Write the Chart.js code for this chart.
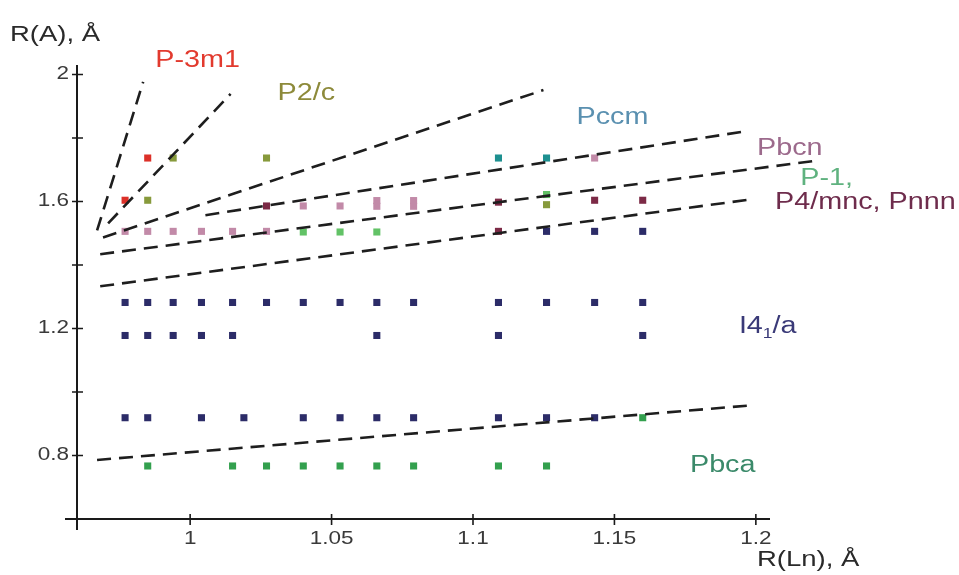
<!DOCTYPE html>
<html><head><meta charset="utf-8">
<script src="https://cdn.jsdelivr.net/npm/chart.js@4.4.0/dist/chart.umd.min.js"></script>
<style>html,body{margin:0;padding:0;background:#fff;}#wrap{width:959px;height:575px;position:relative;}</style>
</head><body><div id="wrap"><canvas id="c"></canvas></div>
<script>
// ---- categories: lanthanide (and Y) ionic radii, R(Ln), Å ----
const lnNames = ['Lu','Yb','Tm','Er','Ho','Y','Dy','Tb','Gd','Eu','Sm','Nd','Pr','Ce','La'];
const lnRadii = [0.977,0.985,0.994,1.004,1.015,1.019,1.027,1.040,1.053,1.066,1.079,1.109,1.126,1.143,1.160];

// ---- series: Ln and R(A) values ----
const p3m1Ln = ['Yb','Lu'];
const p3m1A  = [1.737,1.604];
const p2cLn  = ['Tm','Dy','Yb','Pr'];
const p2cA   = [1.737,1.737,1.604,1.590];
const pccmLn = ['Nd','Pr'];
const pccmA  = [1.737,1.737];
const pbcnLn = ['Lu','Yb','Tm','Er','Ho','Dy','Tb','Gd','Eu','Eu','Sm','Sm','Ce'];
const pbcnA  = [1.506,1.506,1.506,1.506,1.506,1.506,1.586,1.586,1.585,1.603,1.585,1.603,1.737];
const p1Ln   = ['Tb','Gd','Eu','Pr'];
const p1A    = [1.504,1.504,1.504,1.622];
const p4mncLn = ['Dy','Nd','Nd','Ce','La'];
const p4mncA  = [1.586,1.598,1.506,1.604,1.604];
const i41aRowA  = [1.282,1.178,0.919,1.506];
const i41aRowLn = [
  ['Lu','Yb','Tm','Er','Ho','Dy','Tb','Gd','Eu','Sm','Nd','Pr','Ce','La'],
  ['Lu','Yb','Tm','Er','Ho','Eu','Nd','La'],
  ['Lu','Yb','Er','Y','Tb','Gd','Eu','Sm','Nd','Pr','Ce'],
  ['Pr','Ce','La']
];
const pbcaLn = ['La','Yb','Ho','Dy','Tb','Gd','Eu','Sm','Nd','Pr'];
const pbcaA  = [0.919,0.767,0.767,0.767,0.767,0.767,0.767,0.767,0.767,0.767];

// ---- boundary (dashed) lines: [x0,x1], [y0,y1] ----
const bA_x=[0.9671,0.9834], bA_y=[1.509,1.977];
const bB_x=[0.9710,1.0143], bB_y=[1.531,1.939];
const bC_x=[0.9692,1.1249], bC_y=[1.487,1.951];
const bD_x=[1.0054,1.1969], bD_y=[1.557,1.822];
const bE_x=[0.9682,1.2199], bE_y=[1.434,1.727];
const bF_x=[0.9682,1.1987], bF_y=[1.333,1.607];
const bG_x=[0.9671,1.1969], bG_y=[0.786,0.957];

// ---- ticks ----
const xTickValues = [1,1.05,1.1,1.15,1.2];
const xTickLabels = ['1','1.05','1.1','1.15','1.2'];
const yTickValues = [0.8,1.0,1.2,1.4,1.6,1.8,2.0];
const yTickLabels = ['0.8','','1.2','','1.6','','2'];

// ---- region labels ----
const regionNames = ['P-3m1','P2/c','Pccm','Pbcn','P-1,','P4/mnc, Pnnn','I4₁/a','Pbca'];

// ---------------------------------------------------------------
const rOf = n => lnRadii[lnNames.indexOf(n)];
const pts = (lns, as) => lns.map((n,i)=>({x:rOf(n), y:as[i]}));
const seg = (xs, ys) => xs.map((x,i)=>({x:x, y:ys[i]}));

const i41aPts = [];
i41aRowLn.forEach((row,k)=>row.forEach(n=>i41aPts.push({x:rOf(n), y:i41aRowA[k]})));

function ptSet(label, data, color){
  return {label, data, showLine:false, pointStyle:'rect', pointRadius:5, pointHoverRadius:5,
    backgroundColor:color, borderColor:color, borderWidth:0, order:2};
}
function lineSet(label, data){
  return {label, data, showLine:true, pointRadius:0, borderColor:'#1e1e1e', borderWidth:2.6,
    borderDash:[14,8], fill:false, clip:false, order:1};
}

const datasets = [
  lineSet('bA', seg(bA_x,bA_y)), lineSet('bB', seg(bB_x,bB_y)), lineSet('bC', seg(bC_x,bC_y)),
  lineSet('bD', seg(bD_x,bD_y)), lineSet('bE', seg(bE_x,bE_y)), lineSet('bF', seg(bF_x,bF_y)),
  lineSet('bG', seg(bG_x,bG_y)),
  ptSet('I41/a', i41aPts, '#2c2c68'),
  ptSet('Pbca', pts(pbcaLn,pbcaA), '#33a04e'),
  ptSet('Pbcn', pts(pbcnLn,pbcnA), '#c28aa8'),
  ptSet('P-1', pts(p1Ln,p1A), '#62c266'),
  ptSet('P4/mnc', pts(p4mncLn,p4mncA), '#7c2a46'),
  ptSet('P2/c', pts(p2cLn,p2cA), '#879a3c'),
  ptSet('Pccm', pts(pccmLn,pccmA), '#1d9090'),
  ptSet('P-3m1', pts(p3m1Ln,p3m1A), '#dc3028')
];

const STRETCH = 1.25;
const FONT = '"Liberation Sans", Arial, sans-serif';
function sText(ctx, text, x, y, align, size, color){
  ctx.save();
  ctx.translate(x,y);
  ctx.scale(STRETCH,1);
  ctx.font = size+'px '+FONT;
  ctx.fillStyle = color;
  ctx.textAlign = align;
  if (text.indexOf('₁')>=0){
    const parts = text.split('₁');
    ctx.textAlign='left';
    ctx.fillText(parts[0],0,0);
    let w = ctx.measureText(parts[0]).width;
    ctx.font = Math.round(size*0.6)+'px '+FONT;
    ctx.fillText('1',w,5);
    w += ctx.measureText('1').width;
    ctx.font = size+'px '+FONT;
    ctx.fillText(parts[1],w,0);
  } else {
    ctx.fillText(text,0,0);
  }
  ctx.restore();
}

const labelAnchors = [
  {x:0.9877,y:2.024,c:'#e23a2e'},
  {x:1.0309,y:1.920,c:'#8d8a3a'},
  {x:1.1366,y:1.844,c:'#5a90b0'},
  {x:1.2004,y:1.746,c:'#9c6a8c'},
  {x:1.2157,y:1.651,c:'#5fb27f'},
  {x:1.2068,y:1.576,c:'#6e2c4c'},
  {x:1.1940,y:1.187,c:'#3a3a78'},
  {x:1.1767,y:0.748,c:'#3b8a6a'}
];

const axesPlugin = {
  id:'axesPlugin',
  beforeDatasetsDraw(chart){
    const ctx = chart.ctx, xs = chart.scales.x, ys = chart.scales.y;
    const {left,right,top,bottom} = chart.chartArea;
    ctx.save();
    ctx.strokeStyle = '#1a1a1a';
    ctx.lineWidth = 2;
    ctx.beginPath();
    ctx.moveTo(left-12, bottom); ctx.lineTo(right, bottom);
    ctx.moveTo(left, top); ctx.lineTo(left, bottom+11);
    ctx.stroke();
    ctx.lineWidth = 1.6;
    ctx.beginPath();
    yTickValues.forEach(v=>{ const p = ys.getPixelForValue(v); ctx.moveTo(left-5,p); ctx.lineTo(left+6,p); });
    xTickValues.forEach(v=>{ const p = xs.getPixelForValue(v); ctx.moveTo(p,bottom-5); ctx.lineTo(p,bottom+6); });
    ctx.stroke();
    ctx.textBaseline = 'middle';
    yTickValues.forEach((v,i)=>{ if(yTickLabels[i]) sText(ctx, yTickLabels[i], left-8, ys.getPixelForValue(v), 'right', 18, '#3a3a3a'); });
    xTickValues.forEach((v,i)=>{ sText(ctx, xTickLabels[i], xs.getPixelForValue(v), bottom+20, 'center', 18, '#3a3a3a'); });
    ctx.textBaseline = 'alphabetic';
    sText(ctx, 'R(A), Å', 10, 41, 'left', 22, '#2a2a2a');
    sText(ctx, 'R(Ln), Å', 757, 566, 'left', 22, '#2a2a2a');
    regionNames.forEach((t,i)=>{
      const a = labelAnchors[i];
      sText(ctx, t, xs.getPixelForValue(a.x), ys.getPixelForValue(a.y), 'left', 23, a.c);
    });
    ctx.restore();
  }
};

new Chart(document.getElementById('c'), {
  type:'scatter',
  data:{datasets},
  options:{
    responsive:true, maintainAspectRatio:false, animation:false,
    layout:{padding:{left:77, right:189, top:65, bottom:56}, autoPadding:false},
    plugins:{legend:{display:false}, tooltip:{enabled:false}},
    scales:{
      x:{type:'linear', min:0.96, max:1.205, display:false},
      y:{type:'linear', min:0.6, max:2.03, display:false}
    }
  },
  plugins:[axesPlugin]
});
</script>
</body></html>
